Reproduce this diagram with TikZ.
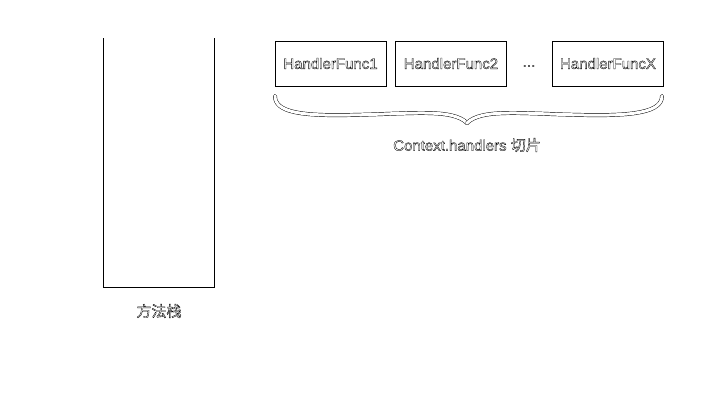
\documentclass[tikz,border=0pt]{standalone}
\usepackage{fontspec}
\setmainfont{Liberation Sans}
\newfontfamily\cjk{Noto Sans CJK SC}
\newcommand{\hollowtext}[1]{\special{pdf:literal direct 1 Tr 0.35 w}#1\special{pdf:literal direct 0 Tr}}
\begin{document}
\begin{tikzpicture}[x=1pt,y=-1pt,
  hbox/.style={draw, line width=0.6pt, minimum width=111pt, minimum height=45pt, inner sep=0pt, font=\fontsize{15}{17}\selectfont},
  lbl/.style={inner sep=0pt, font=\fontsize{15}{17}\selectfont},
  bracestyle/.style={draw=black, double=white, double distance=3pt, line width=0.45pt, line cap=round, line join=round}]
\useasboundingbox (0,0) rectangle (720,405);
% method stack
\coordinate (s1) at (103,38);
\coordinate (s2) at (103,287);
\coordinate (s3) at (214,287);
\coordinate (s4) at (214,38);
\draw[line width=0.6pt] (s1) -- (s2) -- (s3) -- (s4);
\node[lbl] (stack) at (159,311) {\hollowtext{\cjk 方法栈}};
% handler boxes
\node[hbox] (h1) at (330.5,63.5) {\hollowtext{HandlerFunc1}};
\node[hbox] (h2) at (451,63.5) {\hollowtext{HandlerFunc2}};
\node[lbl] (dots) at (529,66) {\hollowtext{...}};
\node[hbox] (h3) at (608,63.5) {\hollowtext{HandlerFuncX}};
% brace
\coordinate (bl) at (275,96);
\coordinate (blm) at (350,115);
\coordinate (tip) at (467,123);
\coordinate (brm) at (584,115);
\coordinate (br) at (662,96);
\draw[bracestyle] (bl) .. controls (275,112) and (300,116) .. (blm)
  .. controls (410,114) and (452,108) .. (tip);
\draw[bracestyle] (tip) .. controls (482,108) and (524,114) .. (brm)
  .. controls (634,116) and (662,112) .. (br);
\node[lbl] (ctx) at (467,145) {\hollowtext{Context.handlers {\cjk 切片}}};
\end{tikzpicture}
\end{document}
